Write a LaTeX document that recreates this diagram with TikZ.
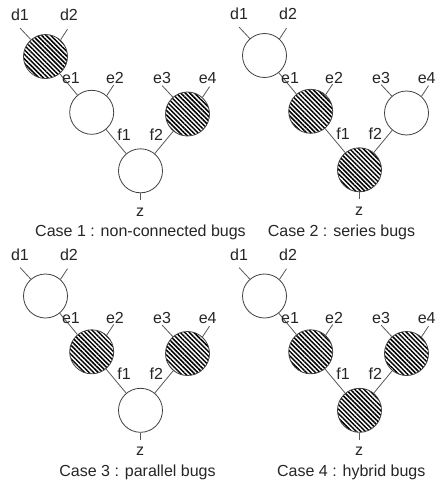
\documentclass[tikz,border=0pt]{standalone}
\usepackage{fontspec}
\setmainfont{Liberation Sans}
\usetikzlibrary{patterns.meta}
\newcommand\bugcase[7]{%
\begin{scope}[shift={(#1,#2)}]
 \node[#4] (#3A) at (45.5,56.5) {};
 \node[#5] (#3B) at (91.7,112.3) {};
 \node[#6] (#3C) at (187.5,114) {};
 \node[#7] (#3D) at (140.5,170.8) {};
 \coordinate (#3d1) at (20.2,28.2);
 \coordinate (#3d2) at (67.5,29.2);
 \coordinate (#3e2) at (113.7,85);
 \coordinate (#3e3) at (162.2,85.7);
 \coordinate (#3e4) at (209.5,86.7);
 \coordinate (#3z) at (140.5,200.3);
 \draw[wire] (#3d1) -- (#3A.131);
 \draw[wire] (#3d2) -- (#3A.48);
 \draw[wire] (#3A) -- (#3B);
 \draw[wire] (#3e2) -- (#3B.48);
 \draw[wire] (#3e3) -- (#3C.131);
 \draw[wire] (#3e4) -- (#3C.48);
 \draw[wire] (#3B) -- (#3D);
 \draw[wire] (#3C) -- (#3D);
 \draw[wire] (#3D) -- (#3z);
 \node[lbl] (#3ld1) at (20,20.7) {d1};
 \node[lbl] (#3ld2) at (69,20.7) {d2};
 \node[lbl] (#3le1) at (71,84) {e1};
 \node[lbl] (#3le2) at (115,84) {e2};
 \node[lbl] (#3le3) at (162,84) {e3};
 \node[lbl] (#3le4) at (207.7,84) {e4};
 \node[lbl] (#3lf1) at (124,140) {f1};
 \node[lbl] (#3lf2) at (156.3,140) {f2};
 \node[lbl] (#3lz) at (140,216) {z};
\end{scope}}
\begin{document}
\begin{tikzpicture}[x=1pt,y=-1pt,
  gate/.style={circle,draw=black!75,line width=0.8pt,minimum size=44pt,inner sep=0pt},
  bug/.style={gate,pattern={Lines[angle=-45,distance=3.2pt,line width=1.5pt]}},
  wire/.style={draw=black!65,line width=0.8pt},
  lbl/.style={anchor=base,inner sep=0pt,font=\fontsize{16}{18}\selectfont,text=black!85},
]
\useasboundingbox[fill=white] (0,0) rectangle (435,487);
\bugcase{0}{0}{a}{bug}{gate}{bug}{gate}
\bugcase{219}{-1}{b}{gate}{bug}{gate}{bug}
\bugcase{0}{239.5}{c}{gate}{bug}{bug}{gate}
\bugcase{219}{239.5}{d}{gate}{bug}{bug}{bug}
\node[lbl] (cap1) at (140.5,236.3) {Case 1 : non-connected bugs};
\node[lbl] (cap2) at (341.5,236.3) {Case 2 : series bugs};
\node[lbl] (cap3) at (137.5,476.3) {Case 3 : parallel bugs};
\node[lbl] (cap4) at (351.3,476.3) {Case 4 : hybrid bugs};
\end{tikzpicture}
\end{document}
